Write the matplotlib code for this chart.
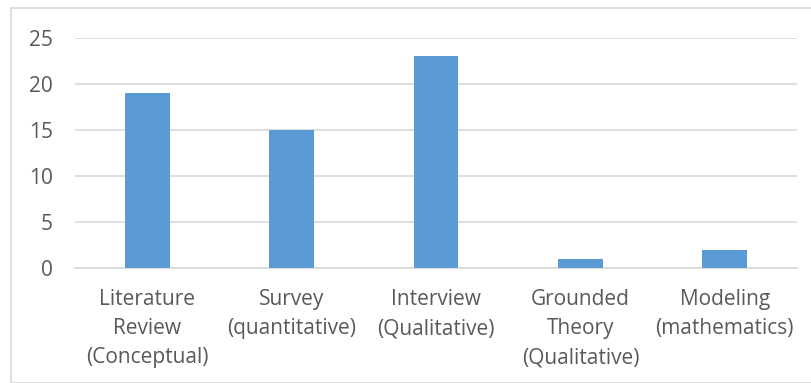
import matplotlib
matplotlib.use("Agg")
import matplotlib.pyplot as plt
from matplotlib.patches import Rectangle

# Chart data
categories = [
    "Literature\nReview\n(Conceptual)",
    "Survey\n(quantitative)",
    "Interview\n(Qualitative)",
    "Grounded\nTheory\n(Qualitative)",
    "Modeling\n(mathematics)",
]
counts = [19, 15, 23, 1, 2]
y_ticks = [0, 5, 10, 15, 20, 25]

plt.rcParams['font.family'] = ['Open Sans', 'DejaVu Sans']

W, H = 812, 383
fig = plt.figure(figsize=(W / 100, H / 100), dpi=100)

# outer chart border (right/bottom fall outside the crop)
fig.patches.append(Rectangle((11 / W, 0), 1.0, 1 - 8 / H, transform=fig.transFigure,
                             fill=False, edgecolor="#D9D9D9", linewidth=1.2))

ax = fig.add_axes([75 / W, 1 - 268 / H, (797 - 75) / W, (268 - 38) / H])
x = range(len(categories))
ax.bar(x, counts, width=0.31, color="#5B9BD5", zorder=3)

ax.set_xlim(-0.5, len(categories) - 0.5)
ax.set_ylim(0, 25)
ax.set_yticks(y_ticks)
ax.set_xticks(list(x))
ax.set_xticklabels(categories, linespacing=1.52)

ax.yaxis.grid(True, color="#D9D9D9", linewidth=1.2, zorder=0)
for side in ["top", "right", "left"]:
    ax.spines[side].set_visible(False)
ax.spines["bottom"].set_color("#D9D9D9")
ax.spines["bottom"].set_linewidth(1.2)

ax.tick_params(axis="both", length=0, labelsize=15, colors="#595959")
ax.tick_params(axis="y", pad=16)
ax.tick_params(axis="x", pad=15)

fig.savefig("out.png", dpi=100)
plt.close(fig)
